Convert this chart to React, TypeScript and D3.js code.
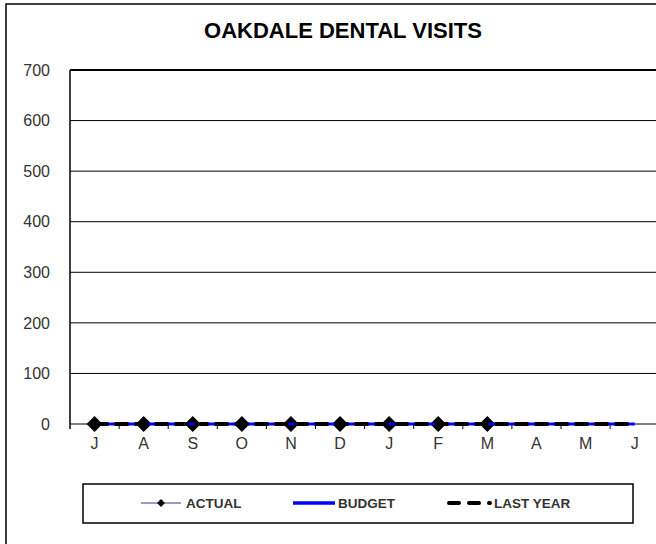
import React from 'react';
import * as d3 from 'd3';

const months = ['J', 'A', 'S', 'O', 'N', 'D', 'J', 'F', 'M', 'A', 'M', 'J'];
const actual = [0, 0, 0, 0, 0, 0, 0, 0, 0];
const budget = [0, 0, 0, 0, 0, 0, 0, 0, 0, 0, 0, 0];
const lastYear = [0, 0, 0, 0, 0, 0, 0, 0, 0, 0, 0, 0];
const yTicks = [0, 100, 200, 300, 400, 500, 600, 700];

const W = 656;
const H = 544;
const FONT = '"Liberation Sans", Arial, sans-serif';

const App: React.FC = () => {
  const left = 70;
  const top = 70;
  const bottom = 424;
  const bandW = 49.1;

  const x = d3.scaleBand<number>()
    .domain(months.map((_, i) => i))
    .range([left, left + bandW * months.length])
    .paddingInner(0)
    .paddingOuter(0);

  const y = d3.scaleLinear().domain([0, 700]).range([bottom, top]);

  const cx = (i: number) => (x(i) ?? 0) + x.bandwidth() / 2;

  const line = d3.line<number>()
    .x((_, i) => cx(i))
    .y((d) => y(d));

  const diamond = d3.symbol().type(d3.symbolDiamond2).size(162)();
  const smallDiamond = d3.symbol().type(d3.symbolDiamond2).size(40)();

  return (
    <div style={{ position: 'absolute', left: 0, top: 0 }}>
      <svg width={W} height={H} style={{ display: 'block', background: '#fff' }}>
        {/* outer chart frame */}
        <rect x={6} y={4} width={W} height={H} fill="none" stroke="#000" strokeWidth={1.5} />

        <text x={343} y={38} textAnchor="middle" fontFamily={FONT} fontWeight="bold" fontSize={22} fill="#000">
          OAKDALE DENTAL VISITS
        </text>

        {/* gridlines + y labels */}
        {yTicks.map((t) => (
          <g key={t}>
            <line
              x1={left}
              x2={W}
              y1={y(t)}
              y2={y(t)}
              stroke="#000"
              strokeWidth={t === 700 ? 2 : 1}
            />
            <text
              x={50}
              y={y(t)}
              dy="0.36em"
              textAnchor="end"
              fontFamily={FONT}
              fontSize={16}
              fill="#333"
            >
              {t}
            </text>
          </g>
        ))}

        {/* y axis */}
        <line x1={left} x2={left} y1={top} y2={bottom + 5} stroke="#000" strokeWidth={1.5} />

        {/* x ticks at band boundaries */}
        {months.map((_, i) => (
          <line
            key={'t' + i}
            x1={(x(i) ?? 0) + bandW}
            x2={(x(i) ?? 0) + bandW}
            y1={bottom}
            y2={bottom + 5}
            stroke="#000"
            strokeWidth={1}
          />
        ))}

        {months.map((m, i) => (
          <text
            key={'m' + i}
            x={cx(i)}
            y={bottom + 25}
            textAnchor="middle"
            fontFamily={FONT}
            fontSize={16}
            fill="#333"
          >
            {m}
          </text>
        ))}

        {/* ACTUAL */}
        <path d={line(actual) || undefined} fill="none" stroke="#7878b8" strokeWidth={1} />
        {actual.map((d, i) => (
          <path key={'a' + i} d={diamond || undefined} transform={`translate(${cx(i)},${y(d)})`} fill="#000" />
        ))}

        {/* BUDGET */}
        <path d={line(budget) || undefined} fill="none" stroke="#0000ff" strokeWidth={3} />

        {/* LAST YEAR */}
        <path
          d={line(lastYear) || undefined}
          fill="none"
          stroke="#000"
          strokeWidth={4}
          strokeDasharray="14 6"
        />

        {/* legend */}
        <rect x={83} y={484} width={550} height={39} fill="#fff" stroke="#000" strokeWidth={1.5} />
        <g fontFamily={FONT} fontWeight="bold" fontSize={13.5} fill="#333">
          <line x1={141} x2={181} y1={503} y2={503} stroke="#7878b8" strokeWidth={1.5} />
          <path d={smallDiamond || undefined} transform="translate(161,503)" fill="#000" />
          <text x={186} y={503} dy="0.36em">ACTUAL</text>

          <line x1={293} x2={335} y1={503} y2={503} stroke="#0000ff" strokeWidth={3.5} />
          <text x={338} y={503} dy="0.36em">BUDGET</text>

          <line
            x1={449}
            x2={490}
            y1={503}
            y2={503}
            stroke="#000"
            strokeWidth={4}
            strokeLinecap="round"
            strokeDasharray="10 10"
          />
          <text x={494} y={503} dy="0.36em">LAST YEAR</text>
        </g>
      </svg>
    </div>
  );
};

export default App;
